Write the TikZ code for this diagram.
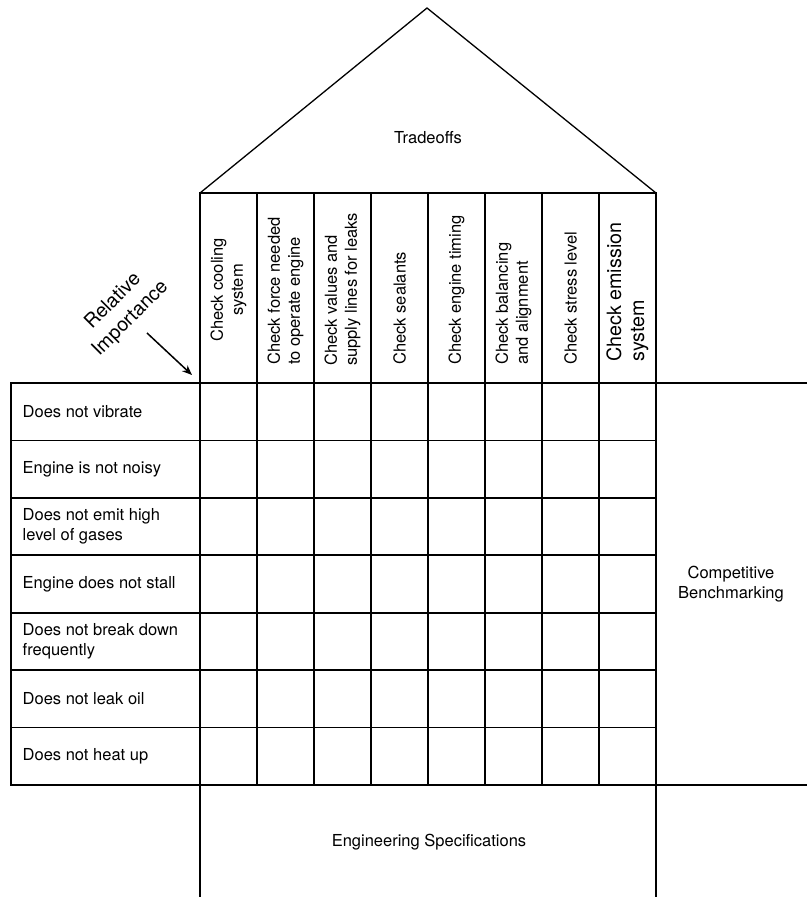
\documentclass[tikz,border=0pt]{standalone}
\usepackage{fontspec}
\setmainfont{TeX Gyre Heros}
\usetikzlibrary{arrows.meta}
\begin{document}
\begin{tikzpicture}[x=1pt,y=-1pt,
  grid/.style={line width=1.8pt,line cap=rect},
  roof/.style={line width=1.3pt,line join=miter},
  lbl/.style={inner sep=0pt,font=\fontsize{16.5}{20}\selectfont},
  hdr/.style={lbl,rotate=90,anchor=west,align=left},
  rowlbl/.style={lbl,anchor=west,align=left}]
\useasboundingbox (0,0) rectangle (806,897);

% roof
\coordinate (apex) at (427,8);
\coordinate (rl) at (200,193);
\coordinate (rr) at (656,193);
\draw[roof] (rl) -- (apex) -- (rr);
\node[lbl] (tradeoffs) at (428,138) {Tradeoffs};

% walls of the house
\draw[grid] (200,193) -- (200,897);
\draw[grid] (656,193) -- (656,897);
\draw[grid] (200,193) -- (656,193);
% interior column lines
\foreach \i in {1,...,7}
  \draw[grid] ({200+57*\i},193) -- ({200+57*\i},785);
% left label column
\draw[grid] (11,383) -- (11,785);
% horizontal lines
\draw[grid] (11,383) -- (806,383);
\draw[grid] (11,785) -- (806,785);
\foreach \j in {1,...,6}
  \draw[grid] (11,{383+57.43*\j}) -- (656,{383+57.43*\j});

% column headers
\node[lbl,rotate=90,align=center] (h1) at (228.5,290) {Check cooling\\system};
\node[hdr] (h2) at (285.5,365) {Check force needed\\to operate engine};
\node[hdr] (h3) at (342.5,366) {Check values and\\supply lines for leaks};
\node[hdr] (h4) at (399.5,365) {Check sealants};
\node[hdr] (h5) at (456.5,365) {Check engine timing};
\node[hdr] (h6) at (513.5,365) {Check balancing\\and alignment};
\node[hdr] (h7) at (570.5,365) {Check stress level};
\node[hdr,font=\fontsize{19.7}{23}\selectfont] (h8) at (627.5,362) {Check emission\\system};

% customer requirements
\node[rowlbl] (r1) at (22.5,411.7) {Does not vibrate};
\node[rowlbl] (r2) at (22.5,469.1) {Engine is not noisy};
\node[rowlbl] (r3) at (22.5,526.6) {Does not emit high\\level of gases};
\node[rowlbl] (r4) at (22.5,584.0) {Engine does not stall};
\node[rowlbl] (r5) at (22.5,641.4) {Does not break down\\frequently};
\node[rowlbl] (r6) at (22.5,698.9) {Does not leak oil};
\node[rowlbl] (r7) at (22.5,756.3) {Does not heat up};

% relative importance with its pointer
\node[lbl,rotate=45,align=center,font=\fontsize{19.5}{24.5}\selectfont] (ri) at (122,310) {Relative\\Importance};
\coordinate (ristart) at (147,333);
\coordinate (corner) at (192,375);
\draw[line width=1.5pt,-{Stealth[length=10pt,width=8pt]}] (ristart) -- (corner);

% side and bottom rooms
\node[lbl,align=center] (bench) at (731,584) {Competitive\\Benchmarking};
\node[lbl] (spec) at (429,842) {Engineering Specifications};
\end{tikzpicture}
\end{document}
